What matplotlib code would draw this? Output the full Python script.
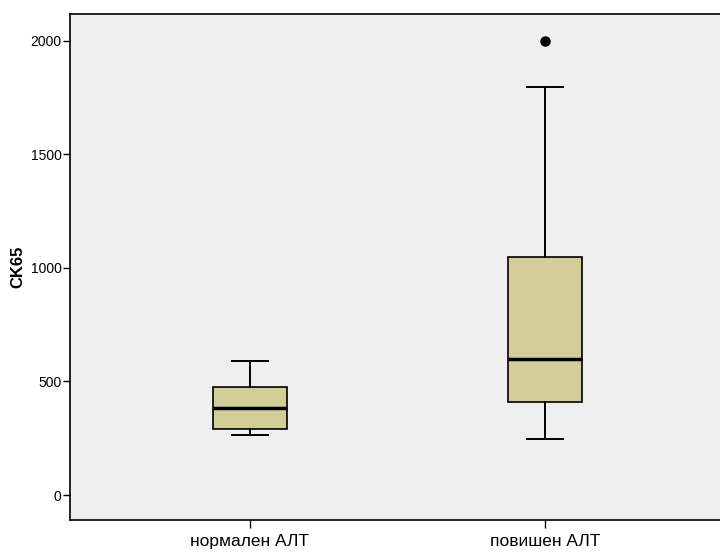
import matplotlib.pyplot as plt

plt.rcParams['font.family'] = ['Liberation Sans', 'DejaVu Sans']

groups = ['нормален АЛТ', 'повишен АЛТ']
whisker_low = [264, 247]
q1 = [289, 411]
median = [382, 599]
q3 = [474, 1049]
whisker_high = [590, 1797]
outliers = [[], [2000]]

y_ticks = [0, 500, 1000, 1500, 2000]

stats = []
for i, name in enumerate(groups):
    stats.append({'label': name, 'whislo': whisker_low[i], 'q1': q1[i], 'med': median[i],
                  'q3': q3[i], 'whishi': whisker_high[i], 'fliers': outliers[i]})

fig = plt.figure(figsize=(7.2, 5.53), dpi=100)
ax = fig.add_axes([70 / 720, 33 / 553, 652 / 720, 506 / 553])
ax.set_facecolor('#efefef')

ax.bxp(stats, positions=range(len(groups)), widths=0.25, capwidths=0.125,
       patch_artist=True,
       boxprops=dict(facecolor='#d3ce97', edgecolor='black', linewidth=1.2),
       medianprops=dict(color='black', linewidth=2.5),
       whiskerprops=dict(color='black', linewidth=1.4),
       capprops=dict(color='black', linewidth=1.4),
       flierprops=dict(marker='o', markerfacecolor='black', markeredgecolor='black',
                       markersize=6.5))

ax.set_xlim(-0.61, 1.6)
ax.set_ylim(-110, 2117)
ax.set_yticks(y_ticks)
ax.set_yticklabels([str(v) for v in y_ticks], fontsize=10)
ax.set_xticks(range(len(groups)))
ax.set_xticklabels(groups, fontsize=12.5)
ax.tick_params(axis='y', direction='out', length=5, width=1, pad=1)
ax.tick_params(axis='x', direction='out', length=6, width=1, pad=4)
ax.set_ylabel('CK65', fontsize=12, fontweight='bold')
ax.yaxis.set_label_coords(-0.069, 0.5)

for side in ['left', 'bottom', 'top', 'right']:
    ax.spines[side].set_color('black')
    ax.spines[side].set_linewidth(1.2)

fig.savefig('out.png', dpi=100)
